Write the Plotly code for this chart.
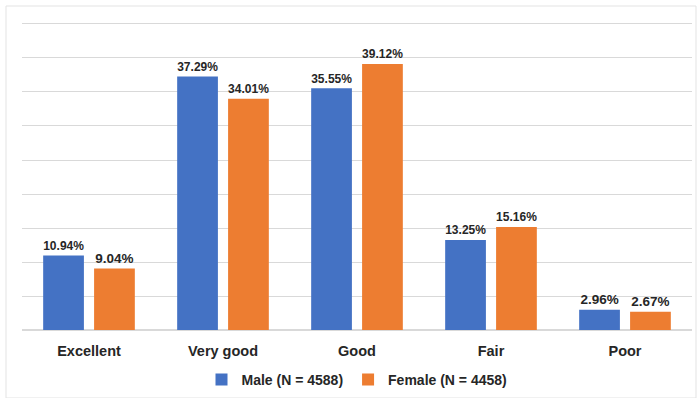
import plotly.graph_objects as go

categories = ["Excellent", "Very good", "Good", "Fair", "Poor"]
male = [10.94, 37.29, 35.55, 13.25, 2.96]
female = [9.04, 34.01, 39.12, 15.16, 2.67]
male_name = "Male (N = 4588)"
female_name = "Female (N = 4458)"

FONT = "Liberation Sans, Arial, sans-serif"

fig = go.Figure()
fig.add_trace(go.Bar(
    x=categories, y=male, name=male_name,
    marker=dict(color="#4472C4", line=dict(width=0)),
    text=[f"{v:.2f}%" for v in male], textposition="outside",
    textfont=dict(family=FONT, size=13.5, color="#262626", weight="bold"),
    cliponaxis=False,
))
fig.add_trace(go.Bar(
    x=categories, y=female, name=female_name,
    marker=dict(color="#ED7D31", line=dict(width=0)),
    text=[f"{v:.2f}%" for v in female], textposition="outside",
    textfont=dict(family=FONT, size=13.5, color="#262626", weight="bold"),
    cliponaxis=False,
))

fig.update_layout(
    width=697, height=398,
    margin=dict(l=22, r=5, t=21, b=68, autoexpand=False),
    paper_bgcolor="white", plot_bgcolor="white",
    barmode="group", bargap=0.24, bargroupgap=0.2,
    font=dict(family=FONT, color="#262626"),
    showlegend=True,
    legend=dict(orientation="h", x=0.5, xanchor="center",
                yref="container", y=1 - 380 / 398, yanchor="middle",
                font=dict(family=FONT, size=14, color="#262626", weight="bold"),
                itemwidth=30, traceorder="normal"),
    xaxis=dict(showgrid=False, showline=False, ticks="", zeroline=False,
               automargin=False, ticklabelstandoff=10,
               tickfont=dict(family=FONT, size=14.5, color="#262626", weight="bold")),
    yaxis=dict(range=[0, 45.44], tickvals=[0, 5, 10, 15, 20, 25, 30, 35, 40, 45],
               showgrid=True, gridcolor="#D9D9D9", gridwidth=1, automargin=False,
               showticklabels=False, zeroline=True, zerolinecolor="#D9D9D9", showline=False,
               ticks=""),
    shapes=[dict(type="rect", xref="paper", yref="paper",
                 x0=-16/670, x1=1 + 4/670, y0=-68/309, y1=1 + 15/309,
                 line=dict(color="#E3E3E3", width=1), fillcolor="rgba(0,0,0,0)", layer="below")],
)

fig.write_html("out.html")
